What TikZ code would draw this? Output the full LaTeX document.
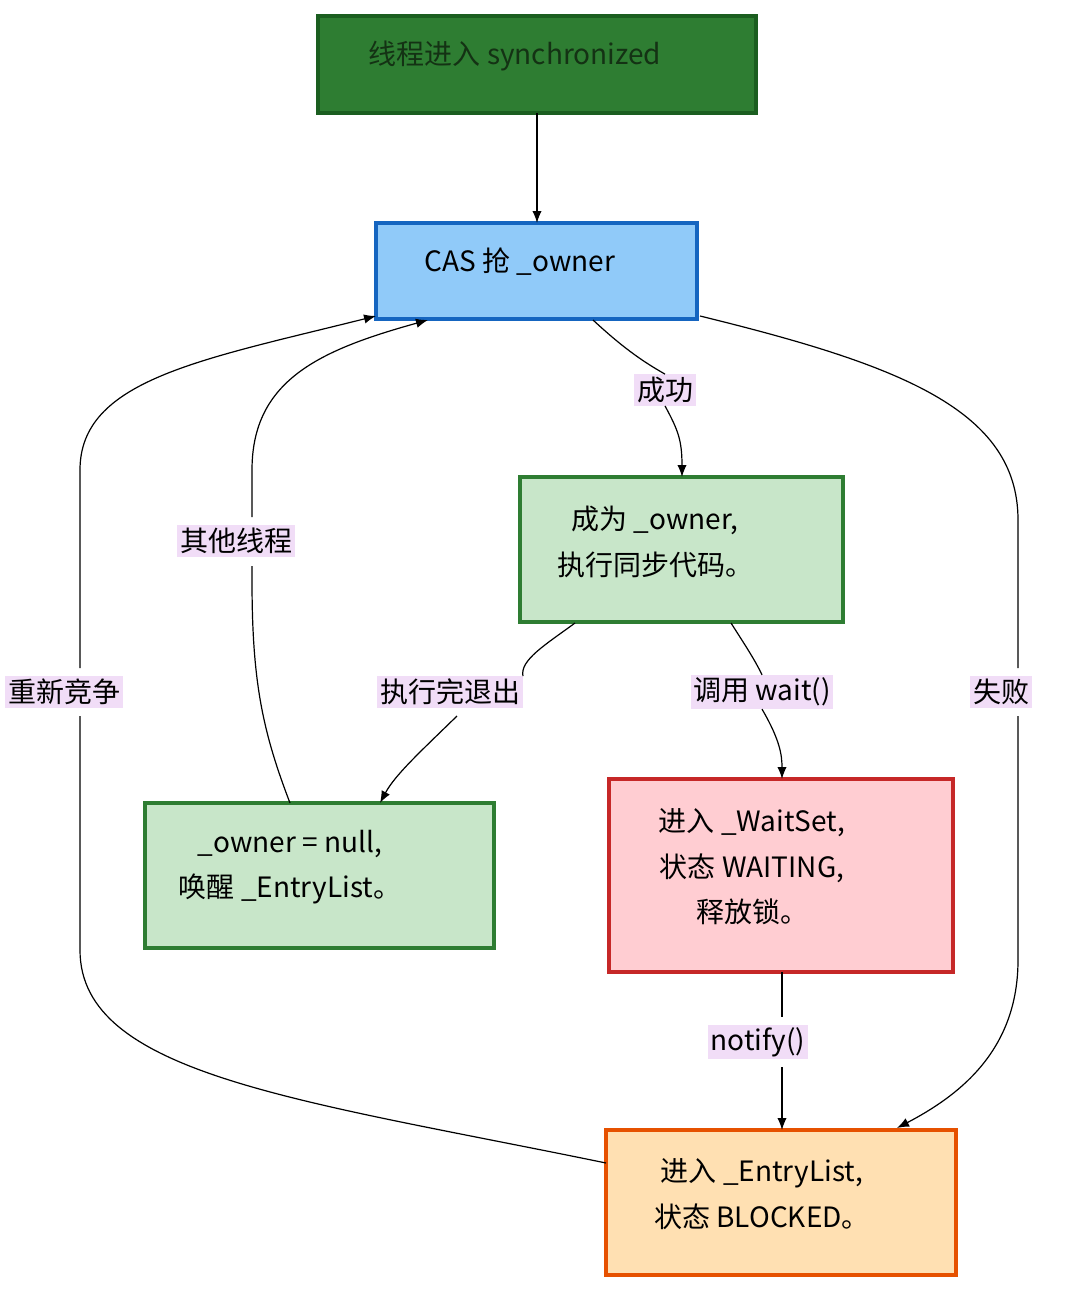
\documentclass[tikz,border=0pt]{standalone}
\usepackage{fontspec}
\setmainfont{Noto Sans CJK SC}
\usetikzlibrary{arrows.meta}
\begin{document}
\begin{tikzpicture}[x=0.75pt,y=-0.75pt,
  box/.style={draw,line width=3pt},
  txt/.style={font=\fontsize{21}{34}\selectfont,align=center},
  lbl/.style={fill=lab,inner sep=2pt,font=\fontsize{21}{25}\selectfont},
  ln/.style={line width=0.9pt},
  arr/.style={ln,-{Latex[length=9pt,width=7pt]}}]
\definecolor{lab}{HTML}{F1DDF7}
\useasboundingbox (0,0) rectangle (1066,1292);
\path[box,fill={rgb,255:red,46;green,125;blue,50},draw={rgb,255:red,27;green,94;blue,32}] (318,16) rectangle (756,113);
\node[txt,text={rgb,255:red,20;green,50;blue,20}] (t) at (515,56) {线程进入 synchronized};
\coordinate (topb) at (537,113);
\path[box,fill={rgb,255:red,144;green,202;blue,249},draw={rgb,255:red,21;green,101;blue,192}] (376,223) rectangle (697,319);
\node[txt] (cas) at (520,262) {CAS 抢 \_owner};
\path[box,fill={rgb,255:red,200;green,230;blue,201},draw={rgb,255:red,46;green,125;blue,50}] (520,477) rectangle (843,622);
\node[txt] (own) at (655,542) {成为 \_owner,\\执行同步代码。};
\path[box,fill={rgb,255:red,200;green,230;blue,201},draw={rgb,255:red,46;green,125;blue,50}] (145,803) rectangle (494,948);
\node[txt] (nul) at (290,867) {\_owner = null,\\唤醒 \_EntryList。};
\path[box,fill={rgb,255:red,255;green,205;blue,210},draw={rgb,255:red,198;green,40;blue,40}] (609,779) rectangle (953,972);
\node[txt] (ws) at (752,867) {进入 \_WaitSet,\\状态 WAITING,\\释放锁。};
\path[box,fill={rgb,255:red,255;green,224;blue,178},draw={rgb,255:red,230;green,81;blue,0}] (606,1130) rectangle (956,1275);
\node[txt] (el) at (762,1194) {进入 \_EntryList,\\状态 BLOCKED。};
\coordinate (casT) at (537,223);
\draw[arr] (topb) -- (casT);
\node[lbl] (l1) at (665,390) {成功};
\draw[ln] (593,320) .. controls (620,345) and (640,360) .. (l1.north);
\draw[arr] (l1.south) .. controls (678,430) and (682,440) .. (682,477);
\node[lbl] (l2) at (450,692) {执行完退出};
\draw[ln] (575,623) .. controls (545,645) and (520,660) .. (l2.north east);
\draw[arr] (457,716) .. controls (420,752) and (395,775) .. (380,803);
\node[lbl] (l3) at (762,692) {调用 wait()};
\draw[ln] (731,623) .. controls (745,645) and (755,660) .. (l3.north);
\draw[arr] (l3.south) .. controls (780,740) and (782,755) .. (782,779);
\node[lbl] (l4) at (758,1042) {notify()};
\draw[ln] (782,972) -- (782,1017);
\draw[arr] (782,1067) -- (782,1130);
\node[lbl] (l5) at (1001,692) {失败};
\draw[ln] (700,316) .. controls (900,365) and (1018,410) .. (1018,520) -- (1018,668);
\draw[arr] (1018,716) -- (1018,960) .. controls (1018,1050) and (960,1095) .. (897,1128);
\node[lbl] (l6) at (64,692) {重新竞争};
\draw[ln] (606,1163) .. controls (300,1100) and (80,1075) .. (80,950) -- (80,716);
\draw[arr] (80,668) -- (80,470) .. controls (80,380) and (200,360) .. (376,316);
\node[lbl] (l7) at (236,541) {其他线程};
\draw[ln] (290,803) .. controls (262,730) and (252,680) .. (252,580) -- (252,566);
\draw[arr] (252,517) -- (252,470) .. controls (252,380) and (320,350) .. (428,320);
\end{tikzpicture}
\end{document}
